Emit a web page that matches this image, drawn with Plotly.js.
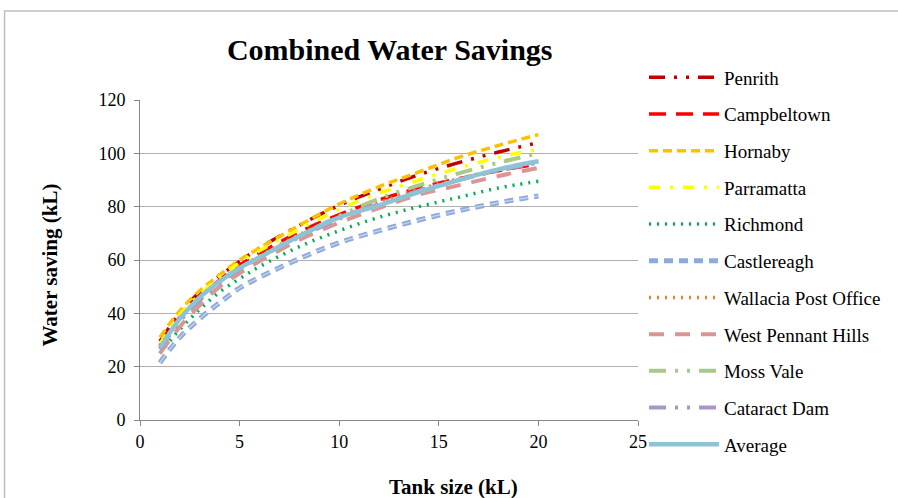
<!DOCTYPE html>
<html>
<head>
<meta charset="utf-8">
<script src="https://cdn.plot.ly/plotly-3.0.1.min.js"></script>
<style>html,body{margin:0;padding:0;background:#fff;}#chart{width:898px;height:498px;}</style>
</head>
<body>
<div id="chart"></div>
<script>
const tankSize = [1, 2, 3, 4, 5, 6, 8, 10, 12, 14, 16, 18, 20];

const penrith      = [29.5, 40, 48, 54, 59.5, 64.5, 73, 80.5, 86.5, 92, 96.5, 100.5, 104];
const campbeltown  = [28, 38.5, 46, 52.5, 58, 62.5, 70.5, 77, 82.5, 87, 90.5, 93.5, 96];
const hornaby      = [31, 41, 48.5, 54.5, 60, 64.5, 73, 81, 87.5, 93, 98.5, 103, 107];
const parramatta   = [28.5, 39.5, 47, 53.5, 59, 63.5, 71.5, 79, 85, 90, 94.5, 98.5, 101.5];
const richmond     = [25, 34, 41.5, 48, 53, 57.5, 65, 71, 76, 80, 83.5, 87, 89.5];
const castlereagh  = [21.5, 31, 38, 44, 49.5, 53.5, 60.5, 66.5, 71, 75, 78.5, 81.5, 84];
const wallacia     = [27.5, 38, 46, 52, 57, 61.5, 69.5, 76, 81.5, 86.5, 90.5, 94, 97];
const westPennant  = [25, 35, 43, 50, 55, 59.5, 67.5, 74, 79.5, 84.5, 88, 91.5, 94.5];
const mossVale     = [27, 37.5, 45, 51.5, 56.5, 61, 69, 76.5, 83, 88, 92.5, 96.5, 100];
const cataractDam  = [26.5, 37, 45, 51.5, 56.5, 61, 68.5, 75.5, 81, 86, 90, 93.5, 96.5];
const average      = [27, 38, 46, 52, 57, 61, 69, 76, 80.5, 85.5, 90, 94, 97];

const seriesNames = ["Penrith", "Campbeltown", "Hornaby", "Parramatta", "Richmond", "Castlereagh",
  "Wallacia Post Office", "West Pennant Hills", "Moss Vale", "Cataract Dam", "Average"];
const seriesValues = [penrith, campbeltown, hornaby, parramatta, richmond, castlereagh,
  wallacia, westPennant, mossVale, cataractDam, average];

const styles = [
  {color: "#C00000", width: 3.5, dash: "16px,9px,3px,9px,3px,9px"},
  {color: "#FF0000", width: 3.5, dash: "17px,10px"},
  {color: "#FFC000", width: 3.5, dash: "9px,5px"},
  {color: "#FFFF00", width: 3.5, dash: "11px,10px,3px,10px"},
  {color: "#00B050", width: 3.5, dash: "2px,6px"},
  {color: "#8EA9DB", width: 5, dash: "9px,6px"},
  {color: "#ED7D31", width: 3.5, dash: "2px,6px"},
  {color: "#DA9694", width: 4, dash: "15px,11px"},
  {color: "#A9C98A", width: 4, dash: "17px,9px,3px,9px,3px,9px"},
  {color: "#A896C8", width: 4, dash: "17px,9px,3px,9px,3px,9px"},
  {color: "#8EC3D6", width: 4.5, dash: "solid"}
];

const traces = [];
seriesNames.forEach((n, i) => {
  traces.push({
    type: "scatter", mode: "lines", name: n,
    x: tankSize, y: seriesValues[i],
    line: Object.assign({shape: "spline", smoothing: 1}, styles[i]),
    legendgroup: "g" + i
  });
  if (n === "Castlereagh") {
    traces.push({
      type: "scatter", mode: "lines", name: n, showlegend: false,
      x: tankSize, y: seriesValues[i],
      line: {shape: "spline", smoothing: 1, color: "#C9D7EE", width: 1.2, dash: styles[i].dash},
      legendgroup: "g" + i, hoverinfo: "skip"
    });
  }
});

const serif = "Liberation Serif, Times New Roman, serif";

const layout = {
  width: 898, height: 498,
  margin: {l: 140, r: 258, t: 100, b: 78},
  paper_bgcolor: "#ffffff", plot_bgcolor: "#ffffff",
  title: {text: "<b>Combined Water Savings</b>", font: {family: serif, size: 30, color: "#000"},
          x: 0.434, xanchor: "center", y: 0.9, yanchor: "middle"},
  font: {family: serif, color: "#000"},
  xaxis: {range: [0, 25], dtick: 5, tick0: 0, showgrid: false, zeroline: false,
          showline: true, linecolor: "#868686", linewidth: 1,
          ticks: "outside", ticklen: 5, tickcolor: "#868686",
          tickfont: {family: serif, size: 18, color: "#000"}, fixedrange: true},
  yaxis: {range: [0, 120], dtick: 20, tick0: 0, showgrid: true, gridcolor: "#B0B0B0", gridwidth: 1,
          zeroline: false, showline: true, linecolor: "#868686", linewidth: 1,
          ticks: "outside", ticklen: 5, tickcolor: "#868686", ticklabelstandoff: 5,
          tickfont: {family: serif, size: 18, color: "#000"}, fixedrange: true},
  showlegend: true,
  legend: {x: 1.012, xanchor: "left", y: 1.13, yanchor: "top",
           font: {family: serif, size: 19, color: "#000"},
           itemwidth: 70, tracegroupgap: 9, traceorder: "grouped",
           maxheight: 490,
           bgcolor: "rgba(0,0,0,0)"},
  annotations: [
    {text: "<b>Water saving (kL)</b>", xref: "paper", yref: "paper", x: -0.18, y: 0.484,
     textangle: -90, showarrow: false, font: {family: serif, size: 21, color: "#000"},
     xanchor: "center", yanchor: "middle"},
    {text: "<b>Tank size (kL)</b>", xref: "paper", yref: "paper", x: 0.63, y: -0.209,
     showarrow: false, font: {family: serif, size: 21, color: "#000"},
     xanchor: "center", yanchor: "middle"}
  ],
  shapes: [
    {type: "rect", xref: "paper", yref: "paper", x0: -0.272, x1: 1.7, y0: -0.4, y1: 1.278,
     line: {color: "#BFBFBF", width: 1.5}, fillcolor: "rgba(0,0,0,0)", layer: "below"}
  ]
};

Plotly.newPlot("chart", traces, layout, {staticPlot: true, displayModeBar: false});
</script>
</body>
</html>
